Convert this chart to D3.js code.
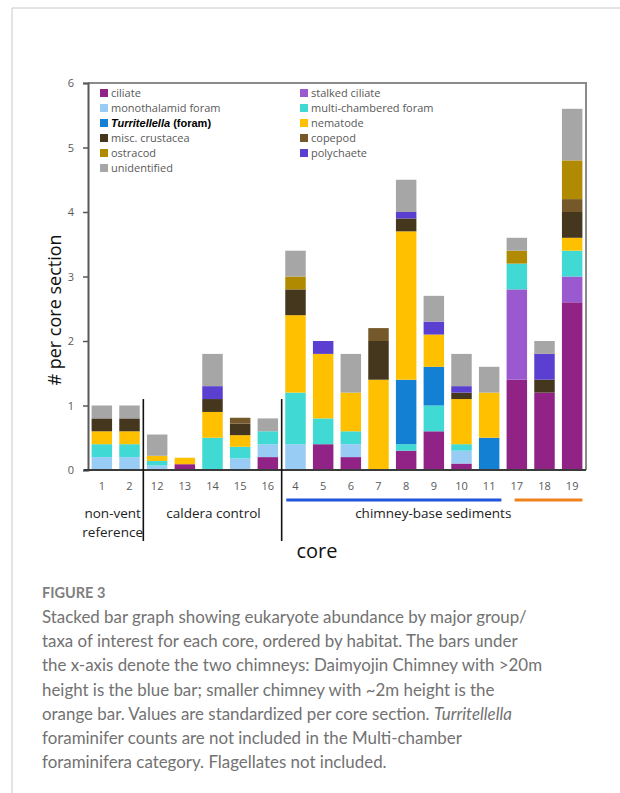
<!DOCTYPE html>
<html>
<head>
<meta charset="utf-8">
<script src="https://cdn.jsdelivr.net/npm/d3@7"></script>
<style>
  body { margin: 0; background: #fff; }
  svg { display: block; }
</style>
</head>
<body>
<div id="chart"></div>
<script>
// cores in habitat order
const cores = ["1", "2", "12", "13", "14", "15", "16", "4", "5", "6", "7", "8", "9", "10", "11", "17", "18", "19"];
const groups = ["ciliate", "stalked ciliate", "monothalamid foram", "multi-chambered foram",
  "Turritellella (foram)", "nematode", "misc. crustacea", "copepod", "ostracod", "polychaete", "unidentified"];
const colors = ["#912386", "#9b59d0", "#99ccf5", "#40d9d3", "#1380d4", "#ffc000",
  "#45371e", "#76592a", "#b08a00", "#5a3fd1", "#a6a6a6"];

// values per core section, one array per group (same order as cores)
const ciliate      = [0, 0, 0, 0.09, 0, 0, 0.2, 0, 0.4, 0.2, 0, 0.3, 0.6, 0.1, 0, 1.4, 1.2, 2.6];
const stalked      = [0, 0, 0, 0, 0, 0, 0, 0, 0, 0, 0, 0, 0, 0, 0, 1.4, 0, 0.4];
const monothalamid = [0.2, 0.2, 0.07, 0, 0, 0.18, 0.2, 0.4, 0, 0.2, 0, 0, 0, 0.2, 0, 0, 0, 0];
const multiForam   = [0.2, 0.2, 0.07, 0, 0.5, 0.18, 0.2, 0.8, 0.4, 0.2, 0, 0.1, 0.4, 0.1, 0, 0.4, 0, 0.4];
const turritellella= [0, 0, 0, 0, 0, 0, 0, 0, 0, 0, 0, 1.0, 0.6, 0, 0.5, 0, 0, 0];
const nematode     = [0.2, 0.2, 0.08, 0.1, 0.4, 0.18, 0, 1.2, 1.0, 0.6, 1.4, 2.3, 0.5, 0.7, 0.7, 0, 0, 0.2];
const crustacea    = [0.2, 0.2, 0, 0, 0.2, 0.18, 0, 0.4, 0, 0, 0.6, 0.2, 0, 0.1, 0, 0, 0.2, 0.4];
const copepod      = [0, 0, 0, 0, 0, 0.09, 0, 0, 0, 0, 0.2, 0, 0, 0, 0, 0, 0, 0.2];
const ostracod     = [0, 0, 0, 0, 0, 0, 0, 0.2, 0, 0, 0, 0, 0, 0, 0, 0.2, 0, 0.6];
const polychaete   = [0, 0, 0, 0, 0.2, 0, 0, 0, 0.2, 0, 0, 0.1, 0.2, 0.1, 0, 0, 0.4, 0];
const unidentified = [0.2, 0.2, 0.33, 0, 0.5, 0, 0.2, 0.4, 0, 0.6, 0, 0.5, 0.4, 0.5, 0.4, 0.2, 0.2, 0.8];
const series = [ciliate, stalked, monothalamid, multiForam, turritellella, nematode,
  crustacea, copepod, ostracod, polychaete, unidentified];

const yTicks = [0, 1, 2, 3, 4, 5, 6];

// habitat groups below the axis
const habitats = [
  { lines: ["non-vent", "reference"], from: "1", to: "2" },
  { lines: ["caldera control"], from: "12", to: "16" },
  { lines: ["chimney-base sediments"], from: "4", to: "19" }
];

const captionLines = [
  "Stacked bar graph showing eukaryote abundance by major group/",
  "taxa of interest for each core, ordered by habitat. The bars under",
  "the x-axis denote the two chimneys: Daimyojin Chimney with >20m",
  "height is the blue bar; smaller chimney with ~2m height is the",
  "orange bar. Values are standardized per core section. |Turritellella|",
  "foraminifer counts are not included in the Multi-chamber",
  "foraminifera category. Flagellates not included."
];

const W = 620, H = 793;
const margin = { top: 83, right: 34, bottom: 323, left: 88 };
const width = W - margin.left - margin.right;
const height = H - margin.top - margin.bottom;

const root = d3.select("#chart").append("svg")
  .attr("width", W)
  .attr("height", H);

// outer figure frame
root.append("path")
  .attr("d", `M12,${H} V8 H${W}`)
  .attr("fill", "none")
  .attr("stroke", "#c8c8c8")
  .attr("stroke-width", 1);

const svg = root.append("g")
  .attr("transform", `translate(${margin.left},${margin.top})`);

const x = d3.scaleBand()
  .domain(cores)
  .range([0, width])
  .paddingInner(0.26)
  .paddingOuter(0.13);

const y = d3.scaleLinear()
  .domain([0, 6])
  .range([height, 0]);

// stack table
const table = cores.map((c, i) => {
  const row = { core: c };
  groups.forEach((g, j) => { row[g] = series[j][i]; });
  return row;
});
const stacked = d3.stack().keys(groups)(table);

svg.selectAll(".layer")
  .data(stacked)
  .enter().append("g")
  .attr("class", "layer")
  .attr("fill", (d, i) => colors[i])
  .selectAll("rect")
  .data(d => d)
  .enter().append("rect")
  .attr("x", d => x(d.data.core))
  .attr("y", d => y(d[1]))
  .attr("width", x.bandwidth())
  .attr("height", d => y(d[0]) - y(d[1]));

// frame top / right
svg.append("path")
  .attr("d", `M0,0 H${width} V${height}`)
  .attr("fill", "none")
  .attr("stroke", "#8a8a8a")
  .attr("stroke-width", 2);

// y axis
const yAxis = svg.append("g")
  .call(d3.axisLeft(y).tickValues(yTicks).tickFormat(d3.format("d")).tickSize(5).tickPadding(9));
yAxis.select(".domain").attr("stroke", "#595959").attr("stroke-width", 2);
yAxis.selectAll(".tick line").attr("stroke", "#595959").attr("stroke-width", 1.5);
yAxis.selectAll(".tick text")
  .attr("fill", "#595959")
  .style("font-family", "'Open Sans', sans-serif")
  .style("font-size", "11px");

// x axis
const xAxis = svg.append("g")
  .attr("transform", `translate(0,${height})`)
  .call(d3.axisBottom(x).tickSize(0).tickPadding(12));
xAxis.select(".domain")
  .attr("d", `M-4,0 H${width}`)
  .attr("stroke", "#3a3a3a").attr("stroke-width", 2);
xAxis.selectAll(".tick text")
  .attr("fill", "#595959")
  .style("font-family", "'Open Sans', sans-serif")
  .style("font-size", "11px");

// habitat separators
[["2", "12"], ["16", "4"]].forEach(([a, b]) => {
  const sx = (x(a) + x.bandwidth() + x(b)) / 2;
  svg.append("line")
    .attr("x1", sx).attr("x2", sx)
    .attr("y1", y(1.1)).attr("y2", height + 71)
    .attr("stroke", "#111").attr("stroke-width", 1.6);
});

// habitat labels
habitats.forEach(h => {
  const cx = (x(h.from) + x(h.to) + x.bandwidth()) / 2;
  h.lines.forEach((t, i) => {
    svg.append("text")
      .attr("x", h.from === "4" ? x("4") + 148 : h.from === "12" ? cx + 1 : cx - 3)
      .attr("y", height + 48 + i * 19)
      .attr("text-anchor", "middle")
      .style("font-family", "'Open Sans', sans-serif")
      .style("font-size", "13.5px")
      .attr("fill", "#222")
      .text(t);
  });
});

// chimney bars
svg.append("line")
  .attr("x1", x("4") + 1).attr("x2", x("11") + x.bandwidth() + 2)
  .attr("y1", height + 30).attr("y2", height + 30)
  .attr("stroke", "#2255dd").attr("stroke-width", 3);
svg.append("line")
  .attr("x1", x("17") + 8).attr("x2", x("19") + x.bandwidth())
  .attr("y1", height + 30).attr("y2", height + 30)
  .attr("stroke", "#f0821e").attr("stroke-width", 3);

// axis titles
svg.append("text")
  .attr("x", 229)
  .attr("y", height + 88)
  .attr("text-anchor", "middle")
  .style("font-family", "'Open Sans', sans-serif")
  .style("font-size", "20px")
  .attr("fill", "#111")
  .text("core");

svg.append("text")
  .attr("transform", "rotate(-90)")
  .attr("x", -(310 - margin.top))
  .attr("y", -27)
  .attr("text-anchor", "middle")
  .style("font-family", "'Open Sans', sans-serif")
  .style("font-size", "18px")
  .attr("fill", "#111")
  .text("# per core section");

// legend (two columns, row-wise)
const legend = svg.append("g").attr("transform", "translate(12,14)");
groups.forEach((g, i) => {
  const col = i % 2, row = Math.floor(i / 2);
  const item = legend.append("g")
    .attr("transform", `translate(${col * 200},${row * 15})`);
  item.append("rect")
    .attr("width", 8).attr("height", 8)
    .attr("y", -8)
    .attr("fill", colors[i]);
  const t = item.append("text")
    .attr("x", 11)
    .attr("y", 0)
    .style("font-family", "'Open Sans', sans-serif")
    .style("font-size", "11px")
    .attr("fill", "#595959");
  if (g.startsWith("Turritellella")) {
    t.attr("fill", "#000")
      .style("font-family", "'Liberation Sans', Arial, sans-serif")
      .style("font-weight", "bold");
    t.append("tspan").style("font-style", "italic").text("Turritellella");
    t.append("tspan").text(" (foram)");
  } else {
    t.text(g);
  }
});

// caption
root.append("text")
  .attr("x", 42)
  .attr("y", 598)
  .style("font-family", "Lato, sans-serif")
  .style("font-size", "14.5px")
  .style("font-weight", "bold")
  .attr("fill", "#808080")
  .text("FIGURE 3");

captionLines.forEach((line, i) => {
  const t = root.append("text")
    .attr("x", 42)
    .attr("y", 623 + i * 24.2)
    .style("font-family", "Lato, sans-serif")
    .style("font-size", "16.9px")
    .attr("fill", "#727272");
  line.split("|").forEach((part, k) => {
    t.append("tspan").style("font-style", k % 2 ? "italic" : "normal").text(part);
  });
});
</script>
</body>
</html>
